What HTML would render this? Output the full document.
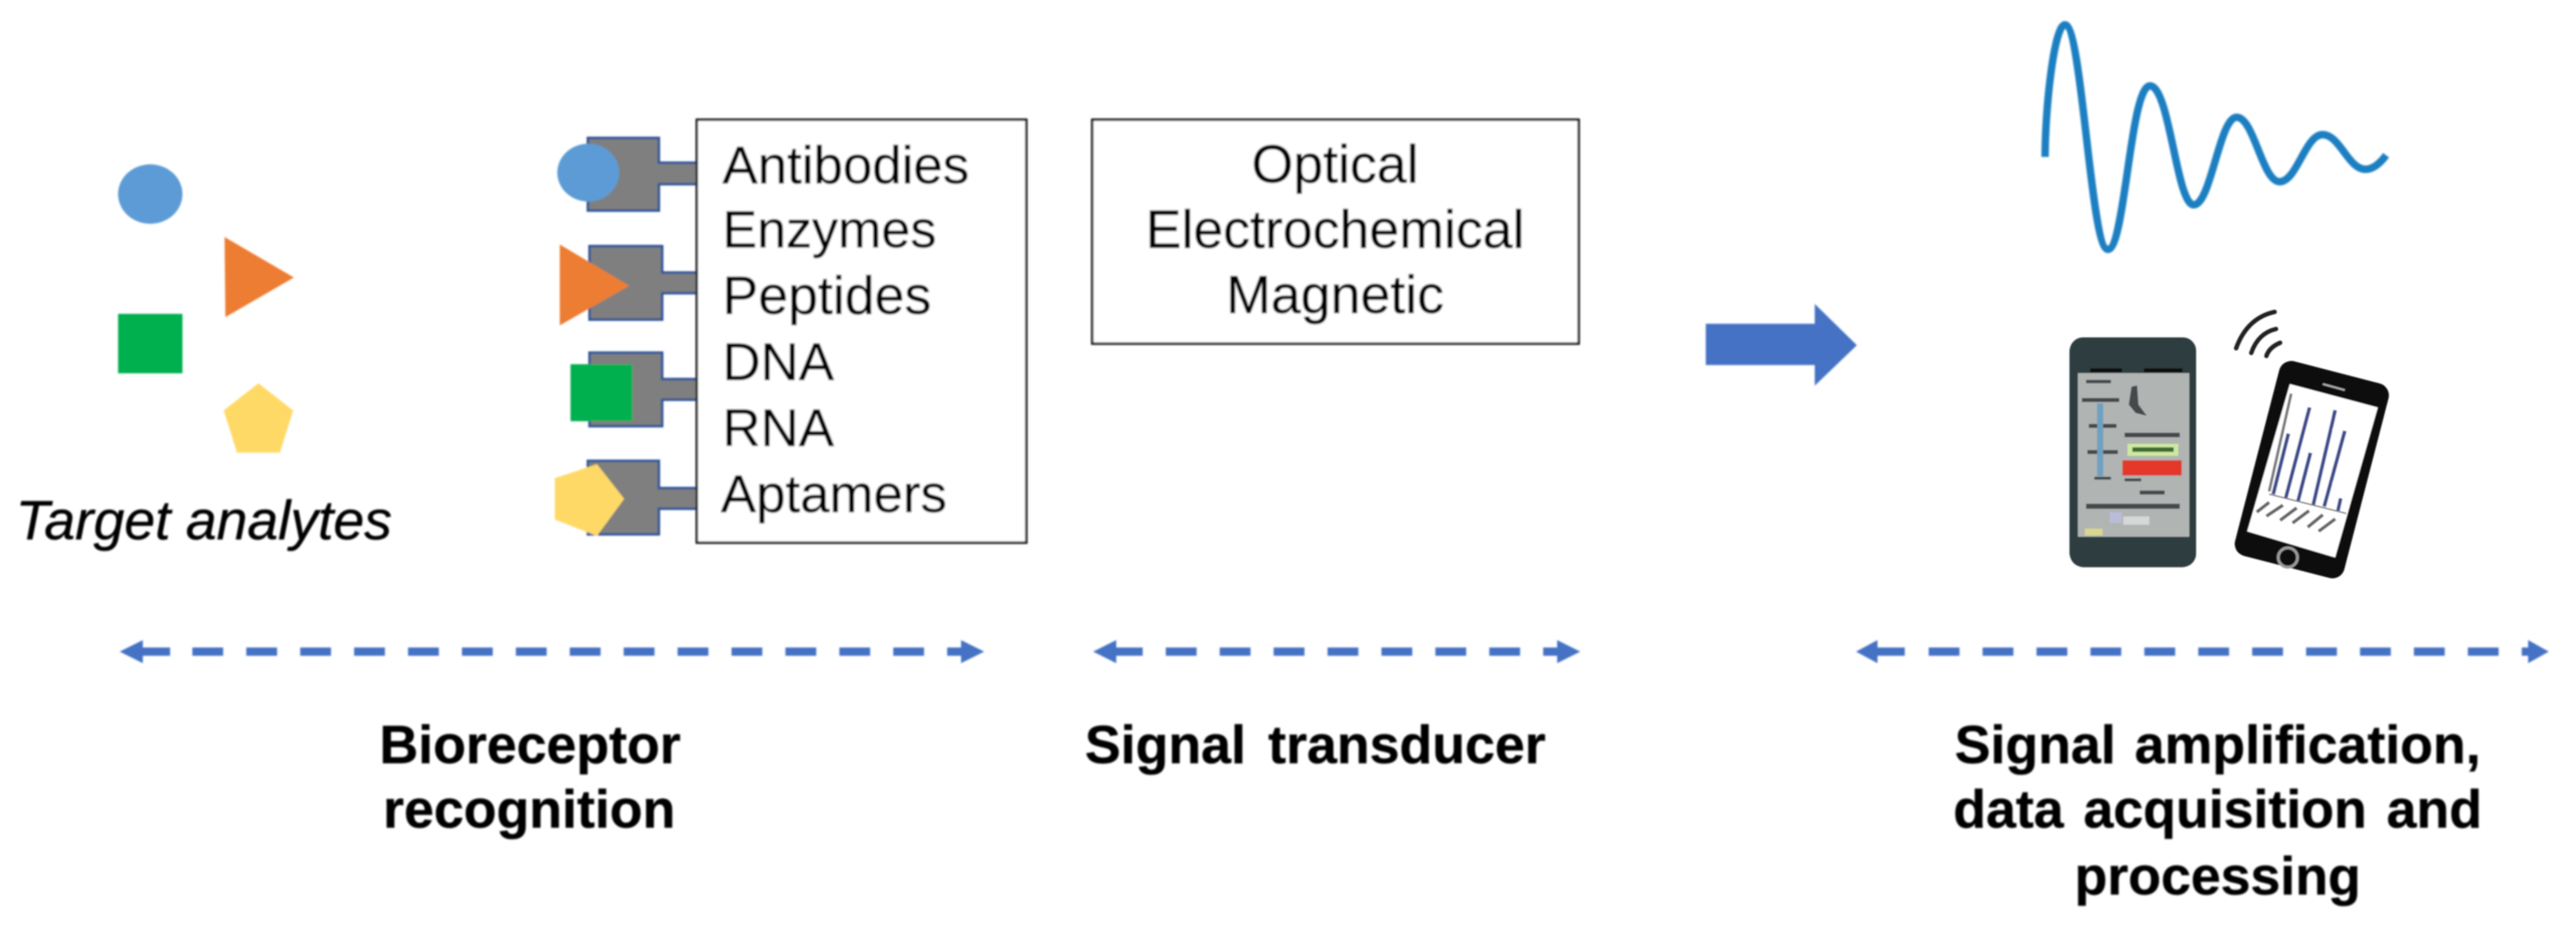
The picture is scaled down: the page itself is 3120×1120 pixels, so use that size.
<!DOCTYPE html>
<html>
<head>
<meta charset="utf-8">
<title>Biosensor diagram</title>
<style>
html,body{margin:0;padding:0;background:#fff;width:3120px;height:1120px;overflow:hidden}
svg{display:block}
text{font-family:"Liberation Sans",sans-serif;font-size:64px;fill:#000;stroke:#000;stroke-width:.5}
.b{font-weight:700;font-size:65px}
.m{text-anchor:middle}
.t{font-size:65px}
</style>
</head>
<body>
<svg width="3120" height="1120" viewBox="0 0 3120 1120" xmlns="http://www.w3.org/2000/svg">
<defs>
<filter id="s" x="-5%" y="-5%" width="110%" height="110%"><feGaussianBlur stdDeviation="1.1"/></filter>
<filter id="p" x="-10%" y="-10%" width="120%" height="120%"><feGaussianBlur stdDeviation="2.2"/></filter>
</defs>
<rect width="3120" height="1120" fill="#fff"/>
<g filter="url(#s)">
  <!-- analytes -->
  <ellipse cx="182" cy="235" rx="39" ry="36" fill="#5b9bd5"/>
  <polygon points="272,287 356,336 273,384" fill="#ed7d31"/>
  <rect x="143" y="380" width="78" height="72" fill="#00b050"/>
  <polygon points="313,464 355,497 339,548 287,548 271,497" fill="#ffd966"/>
  <text x="19" y="653" font-style="italic" style="font-size:67px">Target analytes</text>

  <!-- receptors -->
  <g fill="#7f7f7f" stroke="#2f5597" stroke-width="3">
    <path d="M712 167H798V197H846V223H798V255H712Z"/>
    <path d="M714 298H802V330H846V355H802V387H714Z"/>
    <path d="M714 427H802V459H846V484H802V516H714Z"/>
    <path d="M712 558H798V591H846V616H798V647H712Z"/>
  </g>
  <ellipse cx="712.500" cy="209" rx="37.500" ry="35" fill="#5b9bd5"/>
  <polygon points="678,296 762,346 678,394" fill="#ed7d31"/>
  <rect x="691" y="441" width="75" height="69" fill="#00b050"/>
  <polygon points="672,579 723,562 756,604 723,649 672,629" fill="#ffd966"/>

  <!-- boxes -->
  <rect x="844" y="145" width="399" height="512" fill="#fff" stroke="#111" stroke-width="3"/>
  <rect x="1323" y="145" width="589" height="271" fill="#fff" stroke="#111" stroke-width="3"/>

  <text x="875" y="222">Antibodies</text>
  <text x="875" y="299.500" style="font-size:63px">Enzymes</text>
  <text x="875" y="380" style="font-size:65px">Peptides</text>
  <text x="875" y="460">DNA</text>
  <text x="875" y="540">RNA</text>
  <text x="873" y="620">Aptamers</text>

  <text class="m t" x="1617" y="221">Optical</text>
  <text class="m t" x="1617" y="300">Electrochemical</text>
  <text class="m t" x="1617" y="379">Magnetic</text>

  <!-- big arrow -->
  <polygon points="2066,392 2198,392 2198,368 2249,418 2198,467 2198,442 2066,442" fill="#4472c4"/>

  <!-- dashed double arrows -->
  <g stroke="#4472c4" stroke-width="10" fill="none" stroke-dasharray="37.300 28">
    <line x1="233" y1="789" x2="1166" y2="789"/>
    <line x1="1412" y1="789" x2="1888" y2="789"/>
    <line x1="2336" y1="789" x2="3064" y2="789"/>
  </g>
  <g stroke="#4472c4" stroke-width="10">
    <line x1="170" y1="789" x2="206" y2="789"/>
    <line x1="1350" y1="789" x2="1384" y2="789"/>
    <line x1="2272" y1="789" x2="2307" y2="789"/>
  </g>
  <g fill="#4472c4">
    <polygon points="145,789 173,775 173,803"/>
    <polygon points="1192,789 1164,775 1164,803"/>
    <polygon points="1324,789 1352,775 1352,803"/>
    <polygon points="1914,789 1886,775 1886,803"/>
    <polygon points="2248,789 2274,775 2274,803"/>
    <polygon points="3087,789 3062,775 3062,803"/>
  </g>

  <!-- bold captions -->
  <text class="b m" x="642" y="924">Bioreceptor</text>
  <text class="b m" x="641" y="1002">recognition</text>
  <text class="b m" x="1593" y="924" word-spacing="9">Signal transducer</text>
  <text class="b m" x="2686" y="924" word-spacing="5">Signal amplification,</text>
  <text class="b m" x="2686" y="1002" word-spacing="6">data acquisition and</text>
  <text class="b m" x="2686" y="1083">processing</text>

  <!-- wave -->
  <path d="M2477 190C2477 130 2488 30 2501 30C2522 30 2532 302 2553 302C2574 302 2580 104 2604 104C2628 104 2636 248 2657 248C2678 248 2688 142 2709 142C2730 142 2740 220 2761 220C2782 220 2792 163 2813 163C2834 163 2844 205 2865 205C2875 205 2884 196 2890 188" fill="none" stroke="#1b7fc1" stroke-width="9" stroke-linecap="butt"/>
</g>

<!-- phones -->
<g filter="url(#p)" transform="translate(2440 350) scale(0.33333)">
  <!-- left phone -->
  <rect x="200" y="175" width="460" height="835" rx="50" fill="#2f3d40"/>
  <rect x="230" y="305" width="405" height="595" fill="#b0b4b2"/>
  <rect x="275" y="288" width="115" height="14" fill="#111"/>
  <rect x="470" y="288" width="140" height="14" fill="#111"/>
  <g fill="#444a4c">
    <rect x="260" y="330" width="90" height="12"/>
    <rect x="245" y="396" width="135" height="14"/>
    <rect x="270" y="490" width="100" height="14"/>
    <rect x="265" y="585" width="110" height="14"/>
    <rect x="400" y="522" width="200" height="16"/>
    <rect x="260" y="780" width="340" height="18"/>
    <rect x="290" y="682" width="60" height="10"/>
    <rect x="400" y="688" width="60" height="10"/>
    <rect x="455" y="732" width="90" height="14"/>
    <path d="M425 355L445 350L450 420L480 460L440 450L415 420Z"/>
  </g>
  <rect x="300" y="415" width="22" height="265" fill="#6fa0c0"/>
  <rect x="410" y="562" width="185" height="44" fill="#cde8a0"/>
  <rect x="428" y="575" width="150" height="16" fill="#3f6a30"/>
  <rect x="392" y="622" width="215" height="55" fill="#e4392b"/>
  <rect x="395" y="826" width="95" height="30" fill="#d5d8d8"/>
  <rect x="345" y="810" width="45" height="40" fill="#b9bdd8"/>
  <rect x="255" y="870" width="65" height="25" fill="#d8d690"/>

  <!-- right phone -->
  <rect x="875" y="291" width="410" height="730" rx="45" fill="#0a0a0a" transform="rotate(14.500 1080 656)"/>
  <polygon points="1000,345 1320,430 1165,975 845,880" fill="#fff"/>
  <g fill="none" stroke-linecap="butt">
    <line x1="1005" y1="380" x2="925" y2="735" stroke="#777" stroke-width="10"/>
    <g stroke="#3d4b8c" stroke-width="13">
      <line x1="995" y1="525" x2="940" y2="745"/>
      <line x1="1072" y1="430" x2="985" y2="760"/>
      <line x1="1075" y1="595" x2="1030" y2="770"/>
      <line x1="1165" y1="440" x2="1085" y2="785"/>
      <line x1="1200" y1="515" x2="1125" y2="790"/>
      <line x1="1185" y1="760" x2="1175" y2="805"/>
    </g>
    <line x1="925" y1="745" x2="1205" y2="815" stroke="#777" stroke-width="5"/>
    <g stroke="#666" stroke-width="12">
      <line x1="880" y1="810" x2="925" y2="775"/>
      <line x1="915" y1="825" x2="975" y2="785"/>
      <line x1="965" y1="840" x2="1025" y2="795"/>
      <line x1="1010" y1="850" x2="1070" y2="805"/>
      <line x1="1065" y1="865" x2="1120" y2="820"/>
      <line x1="1105" y1="880" x2="1165" y2="835"/>
    </g>
    <circle cx="993" cy="975" r="35" stroke="#999" stroke-width="11" fill="#111"/>
    <line x1="1120" y1="345" x2="1200" y2="367" stroke="#aaa" stroke-width="7"/>
    <g stroke="#222" stroke-width="16" stroke-linecap="round">
      <path d="M805 215Q845 105 945 83"/>
      <path d="M860 232Q885 160 950 145"/>
      <path d="M915 243Q925 212 965 195"/>
    </g>
  </g>
</g>
</svg>
</body>
</html>
